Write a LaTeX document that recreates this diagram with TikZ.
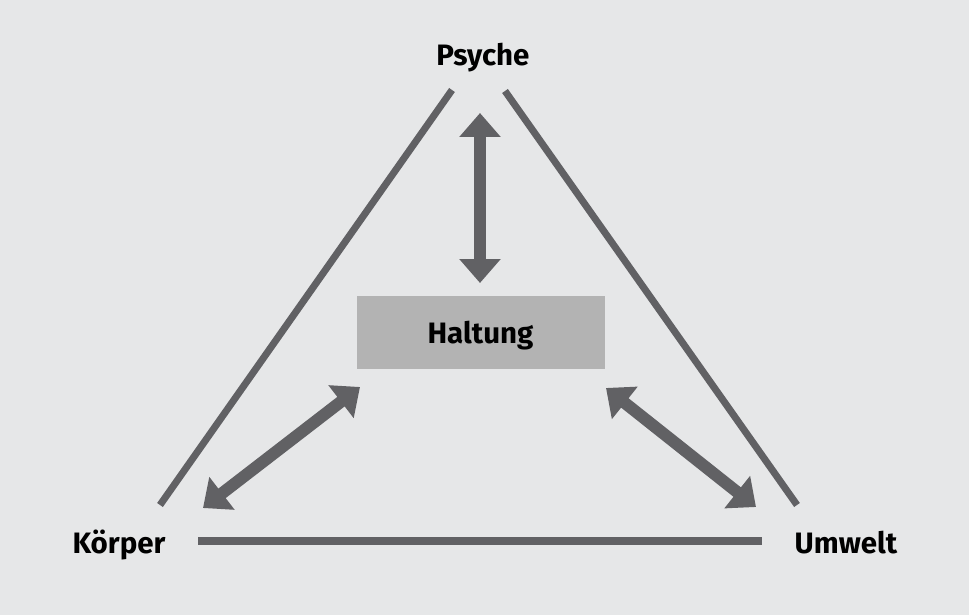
\documentclass[tikz,border=0pt]{standalone}
\usepackage{fontspec}
\setmainfont{Fira Sans}
\usetikzlibrary{arrows.meta}
\definecolor{bg}{HTML}{E6E7E8}
\definecolor{ln}{HTML}{616164}
\definecolor{boxc}{HTML}{B3B3B3}
\tikzset{
  lbl/.style={font=\bfseries\fontsize{29.5}{34}\selectfont, text=black, inner sep=0pt, anchor=base},
  side/.style={draw=ln, line width=7pt},
  dbl/.style={draw=ln, line width=12pt, {Triangle[width=40pt,length=24pt]}-{Triangle[width=40pt,length=24pt]}},
}
\begin{document}
\begin{tikzpicture}[x=1pt,y=-1pt]
\fill[bg] (0,0) rectangle (969,615);
\useasboundingbox (0,0) rectangle (969,615);
\node[lbl] (psyche) at (483,66) {Psyche};
\node[lbl] (koerper) at (119,553) {Körper};
\node[lbl] (umwelt) at (846,553) {Umwelt};
\node[fill=boxc, minimum width=248pt, minimum height=73pt, inner sep=0pt] (haltung) at (481,332.5) {};
\node[lbl] (htext) at (480.5,343) {Haltung};
\coordinate (l1) at (160,505); \coordinate (l2) at (452,90);
\coordinate (r1) at (505,91); \coordinate (r2) at (797,505);
\coordinate (b1) at (198,540.5); \coordinate (b2) at (762,540.5);
\draw[side] (l1) -- (l2);
\draw[side] (r1) -- (r2);
\draw[side, line width=8pt] (b1) -- (b2);
\coordinate (v1) at (480,113); \coordinate (v2) at (480,283);
\coordinate (a1) at (203,508); \coordinate (a2) at (360,387);
\coordinate (c1) at (606,388); \coordinate (c2) at (756,507);
\draw[dbl] (v1) -- (v2);
\draw[dbl] (a1) -- (a2);
\draw[dbl] (c1) -- (c2);
\end{tikzpicture}
\end{document}
